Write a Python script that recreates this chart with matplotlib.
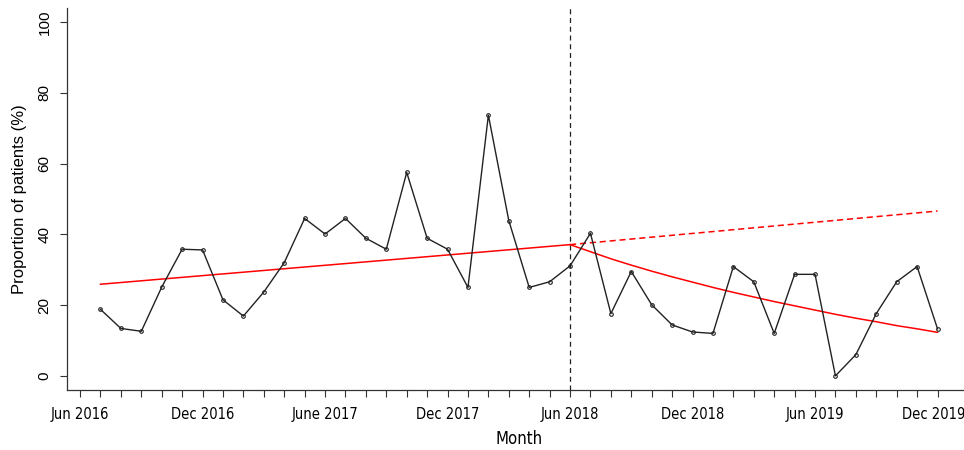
import matplotlib
matplotlib.use("Agg")
import matplotlib.pyplot as plt
import matplotlib.transforms as mtransforms
import numpy as np

# Monthly proportion of patients (%), Jul 2016 .. Dec 2019 (month index 1..42, 0 = Jun 2016)
month_idx = list(range(1, 43))
proportion = [18.8, 13.4, 12.6, 25.1, 35.8, 35.6, 21.5, 16.9, 23.7, 32.0,
              44.5, 40.1, 44.5, 38.9, 35.8, 57.5, 38.9, 35.8, 25.0, 73.7,
              43.9, 25.0, 26.6, 31.1, 40.3, 17.6, 29.5, 20.1, 14.4, 12.4,
              12.0, 30.9, 26.6, 12.0, 28.7, 28.7, 0.0, 6.0, 17.6, 26.6,
              30.9, 13.3]

# Segmented regression fit
intervention_month = 24
pre_trend_x = [1, 24]
pre_trend_y = [25.9, 37.1]
counterfactual_x = [24, 42]
counterfactual_y = [37.1, 46.6]
post_fit_x = list(range(24, 43))
post_fit_y = [37.1, 35.1, 33.1, 31.3, 29.6, 28.0, 26.5, 25.0, 23.6, 22.3,
              21.0, 19.8, 18.6, 17.4, 16.3, 15.3, 14.2, 13.3, 12.3]

tick_months = list(range(0, 43))
label_months = [0, 6, 12, 18, 24, 30, 36, 42]
label_texts = ["Jun 2016", "Dec 2016", "June 2017", "Dec 2017",
               "Jun 2018", "Dec 2018", "Jun 2019", "Dec 2019"]
y_ticks = [0, 20, 40, 60, 80, 100]

fig = plt.figure(figsize=(9.64, 4.5), dpi=100)
ax = fig.add_axes([67 / 964, 60 / 450, 904 / 964, 382 / 450])

ax.plot(month_idx, proportion, color="#222222", lw=1.0, marker="o", ms=2.6,
        mfc="none", mec="#222222", mew=0.8, zorder=3)
ax.plot(pre_trend_x, pre_trend_y, color="red", lw=1.1, zorder=2)
ax.plot(counterfactual_x, counterfactual_y, color="red", lw=1.1,
        ls=(0, (4, 2.5)), zorder=2)
ax.plot(post_fit_x, post_fit_y, color="red", lw=1.1, zorder=2)
ax.axvline(intervention_month, color="#222222", lw=0.9, ls=(0, (4, 3)), zorder=1)

ax.set_xlim(-0.64, 43.64)
ax.set_ylim(-4, 104)

for side in ("top", "right"):
    ax.spines[side].set_visible(False)
for side in ("left", "bottom"):
    ax.spines[side].set_color("#333333")
    ax.spines[side].set_linewidth(0.9)

ax.set_yticks(y_ticks)
ax.set_yticklabels([str(v) for v in y_ticks], rotation=90, va="center",
                   family=["Liberation Sans", "DejaVu Sans"], fontsize=11)
ax.tick_params(axis="y", length=5, width=0.8, color="#333333", pad=6)

ax.set_xticks(tick_months)
ax.set_xticklabels([label_texts[label_months.index(m)] if m in label_months else ""
                    for m in tick_months],
                   family=["DejaVu Sans"], fontstretch="condensed", fontsize=10.5)
ax.tick_params(axis="x", length=5, width=0.8, color="#333333", pad=7)

# keep the last month label inside the figure edge
last_label = ax.get_xticklabels()[-1]
last_label.set_transform(last_label.get_transform() +
                         mtransforms.ScaledTranslation(-4 / 100, 0, fig.dpi_scale_trans))

ax.set_xlabel("Month", family=["DejaVu Sans"], fontstretch="condensed",
              fontsize=12, labelpad=6)
ax.set_ylabel("Proportion of patients (%)", family=["Liberation Sans", "DejaVu Sans"],
              fontsize=12, labelpad=8)

fig.savefig("out.png", dpi=100)
